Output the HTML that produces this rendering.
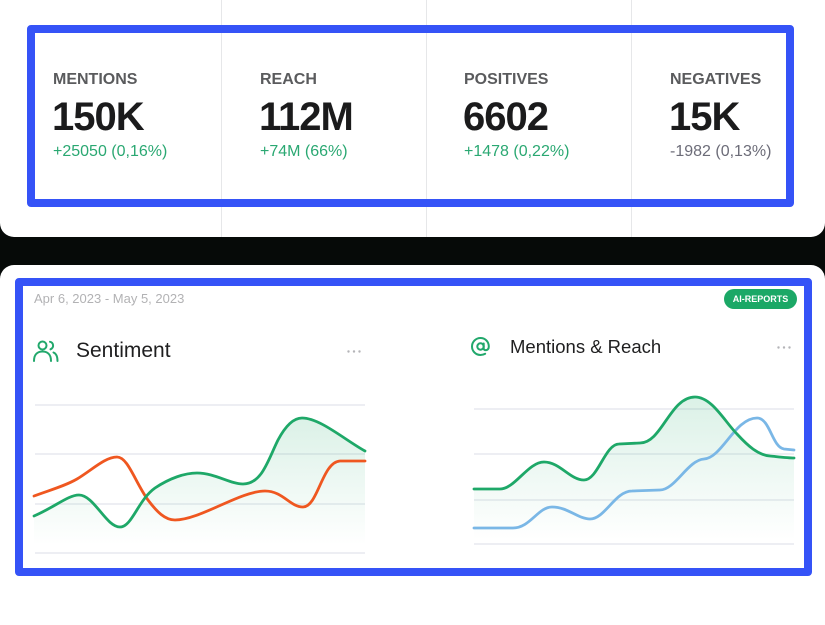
<!DOCTYPE html>
<html><head><meta charset="utf-8">
<style>
html,body{margin:0;padding:0;}
body{width:825px;height:600px;position:relative;overflow:hidden;background:#060a08;font-family:"Liberation Sans",Arial,sans-serif;}
.card1{position:absolute;left:0;top:-20px;width:825px;height:257px;background:#fff;border-radius:0 0 14px 14px;}
.card2{position:absolute;left:0;top:265px;width:825px;height:360px;background:#fff;border-radius:14px 14px 0 0;}
.div{position:absolute;top:0;width:1px;height:237px;background:#e6e7e9;}
.blue{position:absolute;border:8px solid #3553f7;border-radius:4px;box-sizing:border-box;}
.lab{position:absolute;font-size:16px;line-height:16px;font-weight:bold;color:#5a5b5d;}
.val{position:absolute;font-size:40px;line-height:40px;font-weight:bold;color:#1b1b1c;letter-spacing:-1px;}
.dl{position:absolute;font-size:16px;line-height:16px;color:#2aa872;}
.t{position:absolute;white-space:nowrap;}
</style></head><body>
<div class="card1"></div>
<div class="div" style="left:221px"></div>
<div class="div" style="left:426px"></div>
<div class="div" style="left:631px"></div>
<div class="blue" style="left:27px;top:25px;width:767px;height:182px;"></div>

<div class="lab t" style="left:53px;top:72px">MENTIONS</div>
<div class="val t" style="left:52px;top:97px">150K</div>
<div class="dl t" style="left:53px;top:144px">+25050 (0,16%)</div>

<div class="lab t" style="left:260px;top:72px">REACH</div>
<div class="val t" style="left:259px;top:97px">112M</div>
<div class="dl t" style="left:260px;top:144px">+74M (66%)</div>

<div class="lab t" style="left:464px;top:72px">POSITIVES</div>
<div class="val t" style="left:463px;top:97px">6602</div>
<div class="dl t" style="left:464px;top:144px">+1478 (0,22%)</div>

<div class="lab t" style="left:670px;top:72px">NEGATIVES</div>
<div class="val t" style="left:669px;top:97px">15K</div>
<div class="dl t" style="left:670px;top:144px;color:#6c6c78">-1982 (0,13%)</div>

<div class="card2"></div>
<div class="blue" style="left:15px;top:278px;width:797px;height:298px;"></div>

<div class="t" style="left:34px;top:292px;font-size:13px;line-height:13px;color:#b2b2b4">Apr 6, 2023 - May 5, 2023</div>

<div class="t" style="left:724px;top:289px;width:73px;height:20px;border-radius:10px;background:#1ba866;color:#fff;font-size:9px;font-weight:bold;line-height:20px;text-align:center;">AI-REPORTS</div>

<div class="t" style="left:76px;top:340px;font-size:21px;line-height:21px;color:#1f1f20">Sentiment</div>
<div class="t" style="left:510px;top:338px;font-size:18.5px;line-height:18.5px;color:#1f1f20">Mentions &amp; Reach</div>

<svg style="position:absolute;left:0;top:0" width="825" height="600" viewBox="0 0 825 600">
  <defs>
    <linearGradient id="g1" x1="0" y1="0" x2="0" y2="1">
      <stop offset="0" stop-color="#1ea868" stop-opacity="0.16"/>
      <stop offset="1" stop-color="#1ea868" stop-opacity="0"/>
    </linearGradient>
  </defs>
  <g fill="none" stroke="#22a86c" stroke-width="2" stroke-linecap="round">
    <circle cx="42.5" cy="345.5" r="4"/>
    <path d="M34,361 C34,354 38,351.5 42.5,351.5 C47,351.5 51,354 51,361"/>
    <path d="M50,341.8 C53.5,342.5 54.5,347.5 50.5,349.3"/>
    <path d="M53.5,352.5 C56,353.5 57.5,356.5 57.5,361"/>
    <circle cx="480.5" cy="346.5" r="3.2"/>
    <path d="M483.7,343.5 L483.7,348.5 C483.7,351 488.8,351 488.8,346.5 C488.8,341.5 485,338 480.5,338 C475.8,338 472,341.8 472,346.5 C472,351.2 475.8,355 480.5,355 C482.5,355 484,354.5 485.2,353.8"/>
  </g>
  <g fill="#b4b4b8">
    <circle cx="348.5" cy="351.5" r="1.2"/><circle cx="354" cy="351.5" r="1.2"/><circle cx="359.5" cy="351.5" r="1.2"/>
    <circle cx="778.5" cy="347.5" r="1.2"/><circle cx="784" cy="347.5" r="1.2"/><circle cx="789.5" cy="347.5" r="1.2"/>
  </g>
  <g stroke="#e7e9ef" stroke-width="1.5">
    <line x1="35" y1="405" x2="365" y2="405"/>
    <line x1="35" y1="454" x2="365" y2="454"/>
    <line x1="35" y1="504" x2="365" y2="504"/>
    <line x1="35" y1="553" x2="365" y2="553"/>
    <line x1="474" y1="409" x2="794" y2="409"/>
    <line x1="474" y1="454" x2="794" y2="454"/>
    <line x1="474" y1="500" x2="794" y2="500"/>
    <line x1="474" y1="544" x2="794" y2="544"/>
  </g>
  <path d="M34,516 C55,507 68,495 79,495 C94,495 106,527 120,527 C132,527 138,500 155,488 C170,478 185,473 197,473 C215,473 230,484 243,484 C262,484 268,460 278,440 C286,425 294,418 302,418 C320,418 345,440 365,451 L365,545 L34,545 Z" fill="url(#g1)"/>
  <path d="M34,496 C50,490 65,486 77,479 C92,470 105,457 117,457 C128,457 135,482 148,500 C157,512 165,520 175,520 C200,520 240,491 265,491 C283,491 290,507 303,507 C318,507 322,462 340,461 L365,461" fill="none" stroke="#ef5720" stroke-width="2.8" stroke-linecap="round"/>
  <path d="M34,516 C55,507 68,495 79,495 C94,495 106,527 120,527 C132,527 138,500 155,488 C170,478 185,473 197,473 C215,473 230,484 243,484 C262,484 268,460 278,440 C286,425 294,418 302,418 C320,418 345,440 365,451" fill="none" stroke="#1ea868" stroke-width="2.8" stroke-linecap="round"/>
  <path d="M474,489 L500,489 C515,489 528,462 544,462 C560,462 570,480 584,480 C598,480 605,444 619,444 L640,443 C662,443 670,397 695,397 C712,397 725,422 737,434 C748,446 758,455 770,456 C780,457 788,458 794,458 L794,540 L474,540 Z" fill="url(#g1)"/>
  <path d="M474,528 L513,528 C530,528 538,507 552,507 C568,507 578,519 590,519 C605,519 615,491 632,491 L660,490 C675,490 688,460 704,459 C722,458 735,418 757,418 C770,418 772,447 784,449 L794,450" fill="none" stroke="#7ab7e6" stroke-width="2.8" stroke-linecap="round"/>
  <path d="M474,489 L500,489 C515,489 528,462 544,462 C560,462 570,480 584,480 C598,480 605,444 619,444 L640,443 C662,443 670,397 695,397 C712,397 725,422 737,434 C748,446 758,455 770,456 C780,457 788,458 794,458" fill="none" stroke="#1ea868" stroke-width="2.8" stroke-linecap="round"/>
</svg>
</body></html>
